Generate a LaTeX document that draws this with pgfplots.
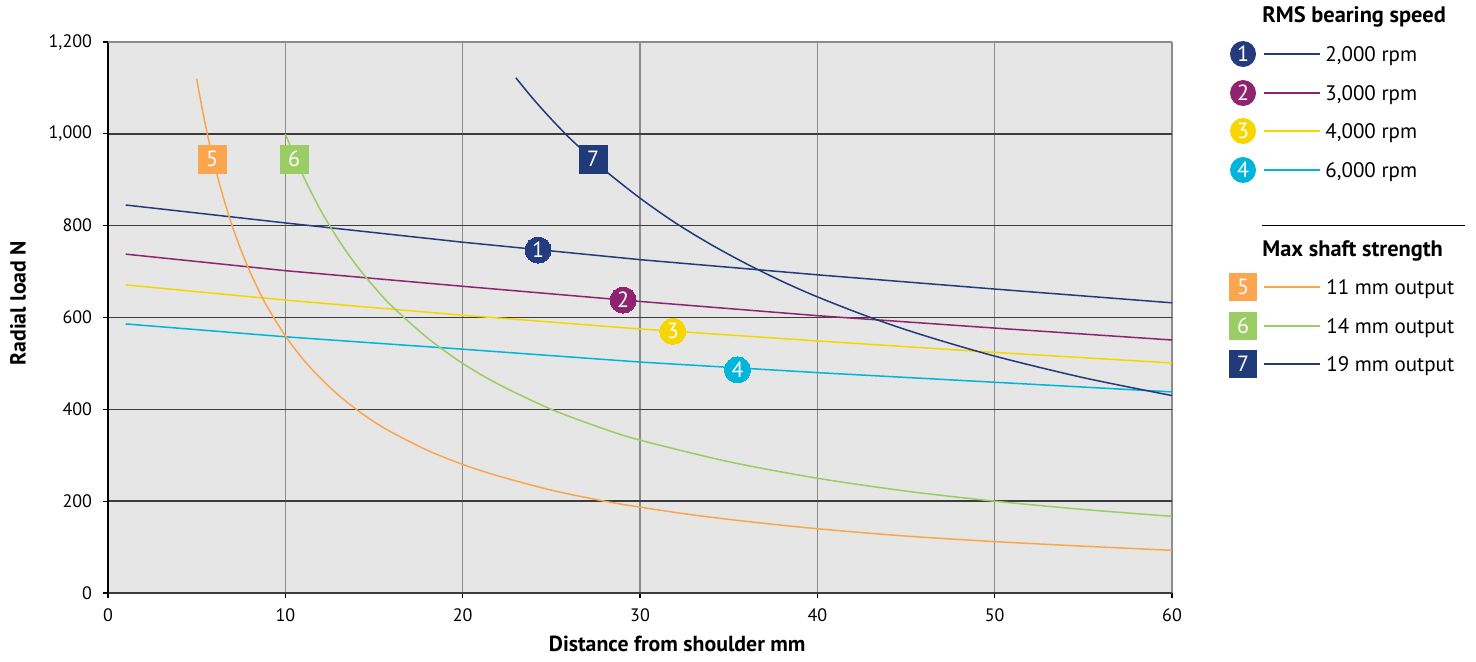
\documentclass[border=0pt]{standalone}
\usepackage{fontspec}
\setmainfont{PT Sans}
\usepackage{pgfplots}
\pgfplotsset{compat=1.18}
\definecolor{cA}{RGB}{36,60,126}
\definecolor{cB}{RGB}{142,36,112}
\definecolor{cC}{RGB}{245,214,0}
\definecolor{cD}{RGB}{0,181,218}
\definecolor{cE}{RGB}{251,166,78}
\definecolor{cF}{RGB}{154,205,99}
\definecolor{cG}{RGB}{33,58,122}
\definecolor{bg}{RGB}{230,230,230}
\definecolor{hgrid}{RGB}{60,60,60}
\definecolor{vgrid}{RGB}{140,140,140}
\begin{document}
\begin{tikzpicture}
\useasboundingbox (0,0) rectangle (738pt,330.5pt);
\begin{axis}[
  at={(54pt,34pt)}, anchor=south west,
  width=532pt, height=275.5pt, scale only axis,
  xmin=0, xmax=60, ymin=0, ymax=1200,
  xtick={0,10,...,60}, ytick={0,200,...,1000},
  extra y ticks={1200},
  extra y tick style={major y grid style={draw=vgrid, line width=0.8pt}},
  axis x line=bottom, axis y line=left,
  x axis line style={-, draw=hgrid, line width=1pt},
  y axis line style={-, draw=black, line width=0.8pt},
  axis background/.style={fill=bg},
  grid=major,
  major x grid style={draw=vgrid, line width=0.7pt},
  major y grid style={draw=hgrid, line width=0.7pt},
  tick align=outside, major tick length=2.5pt,
  tick style={black, line width=0.6pt},
  /pgf/number format/assume math mode=true,
  tick label style={font=\fontsize{9}{11}\selectfont},
  yticklabel style={xshift=-2pt},
  xticklabel style={yshift=-2pt},
  xlabel={\textbf{Distance from shoulder mm}},
  ylabel={\textbf{Radial load N}},
  label style={font=\fontsize{10.9}{12}\selectfont},
  xlabel style={at={(axis description cs:0.535,0)}, anchor=center, yshift=-25.5pt},
  ylabel style={at={(axis description cs:0,0.526)}, anchor=center, yshift=45pt},
]
\addplot[cA, line width=0.75pt] coordinates {(1,845) (10,806) (20,764) (30,726) (40,693) (50,662) (60,632)};
\addplot[cB, line width=0.75pt] coordinates {(1,738) (10,702) (20,668) (30,635) (40,604) (50,577) (60,551)};
\addplot[cC, line width=0.75pt] coordinates {(1,671) (10,638) (20,605) (30,575) (40,549) (50,524) (60,501)};
\addplot[cD, line width=0.75pt] coordinates {(1,586) (10,558) (20,531) (30,503) (40,480) (50,459) (60,438)};
\addplot[cE, line width=0.75pt, smooth] coordinates {(5,1120) (5.25,1067) (5.5,1018) (5.75,974) (6,933) (6.5,862) (7,800) (7.5,747) (8,700) (8.5,659) (9,622) (10,560) (11,509) (12,467) (13,431) (14,400) (15,373) (16,350) (18,311) (20,280) (22,255) (25,224) (28,200) (30,187) (33,170) (36,156) (40,140) (45,124) (50,112) (55,102) (60,93)};
\addplot[cF, line width=0.75pt, smooth] coordinates {(10,1000) (11,909) (12,833) (13,769) (14,714) (15,667) (16,625) (18,556) (20,500) (22,455) (25,400) (28,357) (30,333) (35,286) (40,250) (45,222) (50,200) (55,182) (60,167)};
\addplot[cG, line width=0.75pt, smooth] coordinates {(23,1122) (24,1075) (25,1032) (26,992) (27,956) (28,921) (30,860) (32,806) (34,759) (36,717) (38,679) (40,645) (43,600) (46,561) (50,516) (55,469) (60,430)};
% curve labels
\pgfplotsset{lbl/.style={color=#1, only marks, mark size=6.5pt, mark options={draw=#1, fill=#1, line width=0pt}, every node near coord/.append style={anchor=center, text=white, font=\fontsize{11}{12}\selectfont}}}
\addplot[lbl=cA, mark=*, nodes near coords={1}] coordinates {(24.25,747)};
\addplot[lbl=cB, mark=*, nodes near coords={2}] coordinates {(29.05,638)};
\addplot[lbl=cC, mark=*, nodes near coords={3}] coordinates {(31.85,570)};
\addplot[lbl=cD, mark=*, nodes near coords={4}] coordinates {(35.5,486)};
\addplot[lbl=cE, mark=square*, mark size=7pt, nodes near coords={5}] coordinates {(5.87,945)};
\addplot[lbl=cF, mark=square*, mark size=7pt, nodes near coords={6}] coordinates {(10.5,945)};
\addplot[lbl=cG, mark=square*, mark size=7pt, nodes near coords={7}] coordinates {(27.35,945)};
\end{axis}
% legend
\tikzset{lt/.style={anchor=west, font=\fontsize{10.5}{12}\selectfont, text height=1.45ex, text depth=0pt, inner sep=0pt},
 ln/.style={anchor=center, text=white, font=\fontsize{11}{12}\selectfont, inner sep=0pt}}
\node[anchor=west, inner sep=0pt, font=\bfseries\fontsize{11.2}{12}\selectfont, text height=1.45ex, text depth=0pt] at (631pt,323pt) {RMS bearing speed};
\foreach \y/\c/\n/\t in {303.5/cA/1/{2,000 rpm}, 284/cB/2/{3,000 rpm}, 265/cC/3/{4,000 rpm}, 245.5/cD/4/{6,000 rpm}}{
  \fill[\c] (621.5pt,\y pt) circle (6.5pt);
  \node[ln] at (621.5pt,\y pt) {\n};
  \draw[\c, line width=0.75pt] (632pt,\y pt) -- (660pt,\y pt);
  \node[lt] at (662.5pt,\y pt) {\t};
}
\draw[black, line width=0.5pt] (631pt,218pt) -- (732.5pt,218pt);
\node[anchor=west, inner sep=0pt, font=\bfseries\fontsize{11.2}{12}\selectfont, text height=1.45ex, text depth=0pt] at (631pt,206pt) {Max shaft strength};
\foreach \y/\c/\n/\t in {187/cE/5/{11 mm output}, 167.5/cF/6/{14 mm output}, 148.5/cG/7/{19 mm output}}{
  \fill[\c] (614.5pt,\y pt-7pt) rectangle (628.5pt,\y pt+7pt);
  \node[ln] at (621.5pt,\y pt) {\n};
  \draw[\c, line width=0.75pt] (632pt,\y pt) -- (660pt,\y pt);
  \node[lt] at (663pt,\y pt) {\t};
}
\end{tikzpicture}
\end{document}
